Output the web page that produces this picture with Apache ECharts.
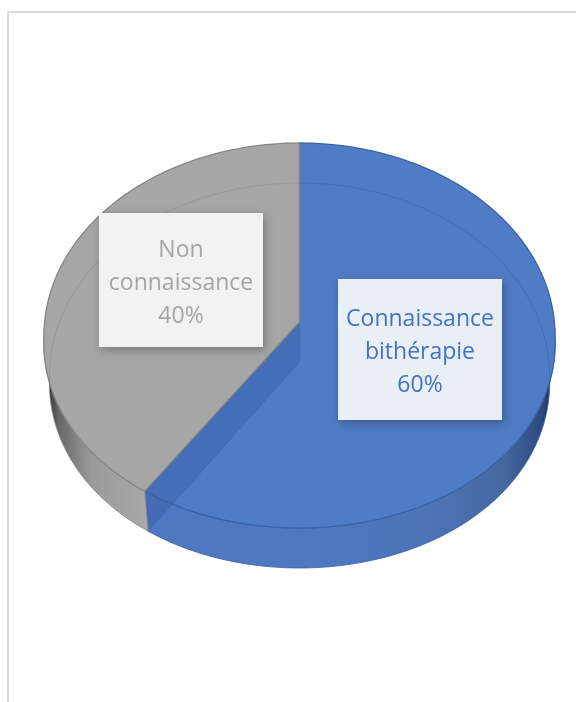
<!DOCTYPE html>
<html>
<head>
<meta charset="utf-8">
<style>html,body{margin:0;padding:0;background:#fff}#c{width:576px;height:702px}</style>
<script src="https://cdn.jsdelivr.net/npm/echarts@6/dist/echarts.min.js"></script>
</head>
<body>
<div id="c"></div>
<script>
const categories = ["Connaissance\nbithérapie", "Non\nconnaissance"];
const values = [60, 40];
const faceColors = ["#507cc5", "#a6a6a6"];
const rimColors = ["#3a62a6", "#858585"];
const boxFill = ["#e9eff7", "#f2f2f2"];
const textColors = ["#4472c4", "#a5a5a5"];
const boxes = [[338, 279, 164, 141], [99, 213, 164, 134]];

const top3d = {cx: 299.5, cy: 335.5, rx: 255.5, ry: 192.5, ax: 299.5, ay: 322};
const low3d = {cx: 299.5, cy: 375.5, rx: 250, ry: 192.5, ax: 299.5, ay: 362};
const frontWiden = 0.037;
const total = values.reduce((a, b) => a + b, 0);

function pt(e, deg) {
  const r = deg * Math.PI / 180;
  const c = Math.cos(r);
  const widen = c < 0 ? 1 - frontWiden * c : 1;
  return [e.cx + e.rx * Math.sin(r) * widen, e.cy - e.ry * c];
}
function arc(e, a, b) {
  const n = Math.max(2, Math.ceil(Math.abs(b - a) / 1.5));
  const out = [];
  for (let i = 0; i <= n; i++) out.push(pt(e, a + (b - a) * i / n));
  return out;
}
const sideFills = [
  new echarts.graphic.LinearGradient(300, 0, 555, 0, [
    {offset: 0, color: "#4f78c0"}, {offset: 0.5, color: "#4d74b8"},
    {offset: 0.8, color: "#45689f"}, {offset: 0.95, color: "#2b4a7e"}, {offset: 1, color: "#16294a"}], true),
  new echarts.graphic.LinearGradient(46, 0, 146, 0, [
    {offset: 0, color: "#262626"}, {offset: 0.12, color: "#666666"},
    {offset: 0.45, color: "#9a9a9a"}, {offset: 1, color: "#a8a8a8"}], true)
];

function renderSlice(params, api) {
  const i = params.dataIndex;
  const v = api.value(0);
  const before = values.slice(0, i).reduce((a, b) => a + b, 0);
  const a0 = before / total * 360, a1 = (before + v) / total * 360;
  const kids = [];
  // outer wall: only the front half of the ring can be seen
  const s0 = Math.max(a0, 88), s1 = Math.min(a1, 272);
  const wall = arc(top3d, s0, s1).concat(arc(low3d, s1, s0));
  kids.push({type: "polygon", shape: {points: wall},
    style: {fill: sideFills[i], stroke: rimColors[i], lineWidth: 0.8}});
  // top face
  const face = [[top3d.ax, top3d.ay]].concat(arc(top3d, a0, a1));
  kids.push({type: "polygon", shape: {points: face},
    style: {fill: faceColors[i], stroke: rimColors[i], lineWidth: 1.3}});
  // faint back rim of the base seen through the face
  if (i === 0) {
    kids.push({type: "polyline", shape: {points: arc(low3d, 0, 95)},
      style: {fill: null, stroke: "rgba(45,85,150,0.35)", lineWidth: 1}});
  } else {
    kids.push({type: "polyline", shape: {points: arc(low3d, Math.max(a0, 268), a1)},
      style: {fill: null, stroke: "rgba(130,130,130,0.4)", lineWidth: 1}});
  }
  if (i === 0) {
    // see-through cut face at the slice end
    const cut = [[top3d.ax, top3d.ay], pt(top3d, a1), pt(low3d, a1), [low3d.ax, low3d.ay]];
    kids.push({type: "polygon", shape: {points: cut},
      style: {fill: "rgba(55,95,170,0.5)", stroke: "rgba(50,95,170,0.5)", lineWidth: 0.8}});
  }
  const b = boxes[i];
  kids.push({type: "rect", shape: {x: b[0], y: b[1], width: b[2], height: b[3]},
    z2: 10,
    style: {fill: boxFill[i], shadowBlur: 9, shadowOffsetX: 2, shadowOffsetY: 3,
      shadowColor: "rgba(0,0,0,0.28)"}});
  kids.push({type: "text", z2: 11, style: {
    x: b[0] + b[2] / 2, y: b[1] + b[3] / 2 + 3,
    text: categories[i] + "\n" + Math.round(v / total * 100) + "%",
    align: "center", verticalAlign: "middle",
    font: '23px "Open Sans"', lineHeight: 33, fill: textColors[i]}});
  return {type: "group", children: kids};
}

const chart = echarts.init(document.getElementById("c"), null, {renderer: "canvas"});
chart.setOption({
  animation: false,
  backgroundColor: "#fff",
  graphic: [
    {type: "line", shape: {x1: 8, y1: 12, x2: 8, y2: 702}, style: {stroke: "#d9d9d9", lineWidth: 2}},
    {type: "line", shape: {x1: 7, y1: 12, x2: 576, y2: 12}, style: {stroke: "#d9d9d9", lineWidth: 2}}
  ],
  series: [{
    type: "custom",
    coordinateSystem: "none",
    renderItem: renderSlice,
    data: values.map((v, i) => ({name: categories[i], value: [v]}))
  }]
});
</script>
</body>
</html>
